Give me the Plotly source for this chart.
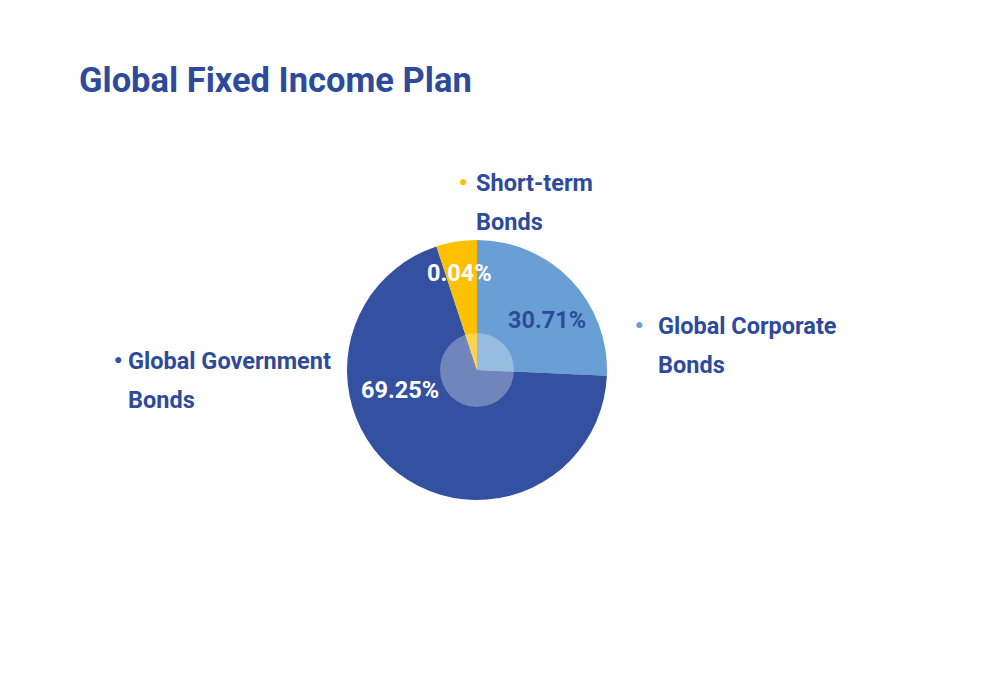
import plotly.graph_objects as go

# chart data
categories = ["Global Corporate Bonds", "Global Government Bonds", "Short-term Bonds"]
pct_labels = ["30.71%", "69.25%", "0.04%"]
# slice sizes as they are drawn in the picture (the small slice is drawn bigger than its label)
slice_sizes = [25.7, 69.25, 5.05]
slice_colors = ["#6a9fd6", "#3351a0", "#fec000"]

TXT = "#2e4b9b"
FONT = "Roboto"

# pie placement in pixels (1000x700 page); the page body adds an 8px offset
W, H = 1000, 700
OFF = 8
cx, cy, r = 477 - OFF, 370 - OFF, 130
hub_r = 37

fig = go.Figure()

fig.add_trace(go.Pie(
    labels=categories,
    values=slice_sizes,
    marker=dict(colors=slice_colors, line=dict(width=0)),
    sort=False,
    direction="clockwise",
    rotation=0,
    textinfo="none",
    hoverinfo="label",
    showlegend=False,
    domain=dict(x=[(cx - r) / W, (cx + r) / W], y=[1 - (cy + r) / H, 1 - (cy - r) / H]),
))

# faint white hub in the middle
fig.add_trace(go.Pie(
    values=[1],
    marker=dict(colors=["rgba(255,255,255,0.3)"], line=dict(width=0)),
    textinfo="none",
    hoverinfo="skip",
    showlegend=False,
    domain=dict(x=[(cx - hub_r) / W, (cx + hub_r) / W],
                y=[1 - (cy + hub_r) / H, 1 - (cy - hub_r) / H]),
))

annotations = []


def px_note(x, y, text, size, color, xanchor="center", yanchor="middle"):
    annotations.append(dict(
        x=(x - OFF) / W, y=1 - (y - OFF) / H, xref="paper", yref="paper",
        text=text, showarrow=False, xanchor=xanchor, yanchor=yanchor,
        font=dict(family=FONT, size=size, color=color, weight="bold"),
    ))


# percentage labels inside the slices
pct_pos = [(547, 320, TXT), (400, 390, "white"), (459, 273, "white")]
for lab, (x, y, col) in zip(pct_labels, pct_pos):
    px_note(x, y, lab, 23.5, col)

# outside labels with coloured bullets, two lines each
label_lines = [["Global Corporate", "Bonds"], ["Global Government", "Bonds"], ["Short-term", "Bonds"]]
label_pos = [(656, 326, 639), (126, 361, 118), (474, 183, 463)]
for lines, (x, y, bx), col in zip(label_lines, label_pos, slice_colors):
    px_note(bx, y - 2, "●", 14, col)
    for i, line in enumerate(lines):
        px_note(x, y + i * 39, line, 23.5, TXT, xanchor="left")

# title
px_note(77, 80, "Global Fixed Income Plan", 34.5, TXT, xanchor="left")

fig.update_layout(
    width=W, height=H,
    margin=dict(l=0, r=0, t=0, b=0),
    paper_bgcolor="white",
    plot_bgcolor="white",
    annotations=annotations,
)

fig.write_html("out.html")
